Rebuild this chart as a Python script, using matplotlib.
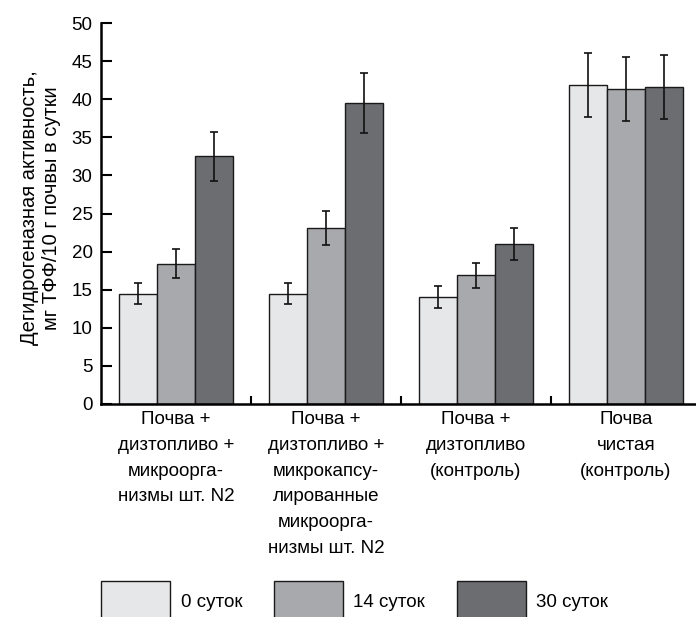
import numpy as np
import matplotlib
matplotlib.use('Agg')
import matplotlib.pyplot as plt
from matplotlib.patches import Patch

plt.rcParams['font.family'] = ['Liberation Sans Narrow', 'Liberation Sans', 'DejaVu Sans']

groups = ['Почва +\nдизтопливо +\nмикроорга-\nнизмы шт. N2',
          'Почва +\nдизтопливо +\nмикрокапсу-\nлированные\nмикроорга-\nнизмы шт. N2',
          'Почва +\nдизтопливо\n(контроль)',
          'Почва\nчистая\n(контроль)']
series = ['0 суток', '14 суток', '30 суток']
day0 = [14.5, 14.5, 14.1, 41.9]
day14 = [18.4, 23.1, 16.9, 41.4]
day30 = [32.5, 39.5, 21.0, 41.6]
err0 = [1.4, 1.4, 1.45, 4.2]
err14 = [1.9, 2.2, 1.65, 4.2]
err30 = [3.25, 3.9, 2.1, 4.2]
colors = ['#e6e7e9', '#a8a9ac', '#6c6d71']

fig = plt.figure(figsize=(6.96, 6.17), dpi=100)
ax = fig.add_axes([101/696, 213/617, 1 - 101/696, 381/617])

x = np.arange(len(groups))
w = 0.253
vals = [day0, day14, day30]
errs = [err0, err14, err30]
for i in range(3):
    ax.bar(x + (i - 1) * w, vals[i], width=w, color=colors[i],
           edgecolor='#1a1a1a', linewidth=1.0, zorder=2)
    ax.errorbar(x + (i - 1) * w, vals[i], yerr=errs[i], fmt='none',
                ecolor='#111111', elinewidth=1.2, capsize=3, capthick=1.2, zorder=3)

ax.set_xlim(-0.5, 3.467)
ax.set_ylim(0, 50)
ax.set_yticks(range(0, 51, 5))
ax.tick_params(axis='y', direction='in', length=8, width=1.5, labelsize=13.5, pad=6)
ax.set_xticks([0.5, 1.5, 2.5])
ax.set_xticklabels([])
ax.tick_params(axis='x', direction='in', length=6, width=1.5)
for xi, g in zip(x, groups):
    ax.text(xi, -0.9, g, ha='center', va='top', fontsize=13.5, linespacing=1.68)

for s in ['top', 'right']:
    ax.spines[s].set_visible(False)
for s in ['left', 'bottom']:
    ax.spines[s].set_linewidth(1.8)

ax.set_ylabel('Дегидрогеназная активность,\nмг ТФФ/10 г почвы в сутки',
              fontsize=14.5, linespacing=1.15)
ax.yaxis.set_label_coords(-0.068, 0.515)

handles = [Patch(facecolor=c, edgecolor='#1a1a1a', linewidth=1.0) for c in colors]
fig.legend(handles, series, loc='upper left', bbox_to_anchor=(101/696, 1 - 581/617),
           ncol=3, frameon=False, fontsize=13.5, handlelength=3.7, handleheight=3.0,
           handletextpad=0.55, columnspacing=1.68, borderaxespad=0, borderpad=0)

fig.savefig('out.png', dpi=100)
